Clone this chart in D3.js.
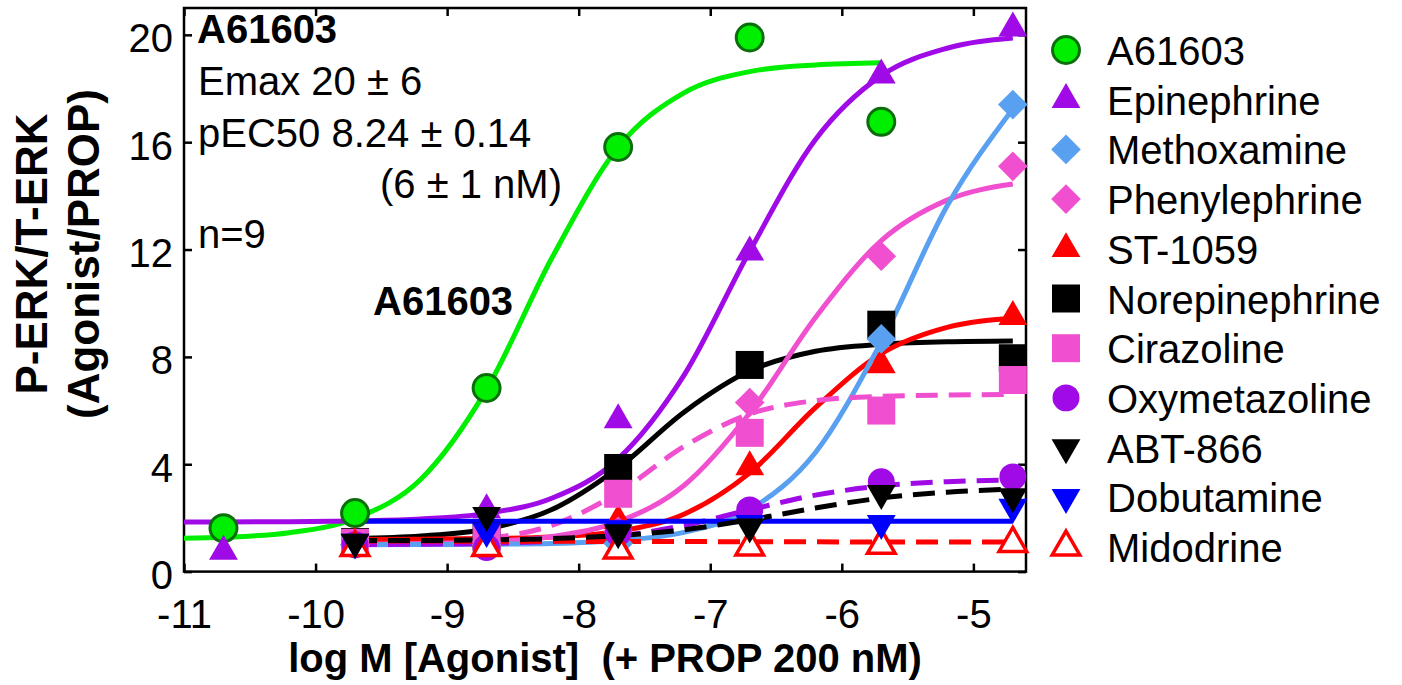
<!DOCTYPE html>
<html>
<head>
<meta charset="utf-8">
<script src="https://cdn.jsdelivr.net/npm/d3@7"></script>
<style>
  body { margin: 0; background: #fff; }
  text { font-family: "Liberation Sans", Arial, Helvetica, sans-serif; }
</style>
</head>
<body>
<svg id="chart" width="1402" height="685"></svg>
<script>
// concentrations (log M) of the measured points
var doseX = [-10.7, -9.7, -8.7, -7.7, -6.7, -5.7, -4.7];
var fitX = [-11, -10.7, -10.2, -9.7, -9.2, -8.7, -8.2, -7.7, -7.2, -6.7, -6.2, -5.7, -5.2, -4.7];
var xTicks = [-11, -10, -9, -8, -7, -6, -5];
var yTicks = [0, 4, 8, 12, 16, 20];

var names = ["A61603", "Epinephrine", "Methoxamine", "Phenylephrine", "ST-1059", "Norepinephrine",
             "Cirazoline", "Oxymetazoline", "ABT-866", "Dobutamine", "Midodrine"];

var ptA61603 = [1.62, 2.18, 6.84, 15.82, 19.9, 16.76, null];
var ptEpinephrine = [0.75, 1.0, 2.3, 5.65, 11.9, 18.5, 20.25];
var ptMethoxamine = [null, 1.0, 1.0, 1.05, 2.0, 8.67, 17.4];
var ptPhenylephrine = [null, 1.0, 1.1, 1.5, 6.3, 11.75, 15.1];
var ptST1059 = [null, 1.05, 1.2, 1.9, 3.9, 7.7, 9.5];
var ptNorepinephrine = [null, 1.1, 1.3, 3.86, 7.7, 9.2, 7.95];
var ptCirazoline = [null, 1.07, 1.25, 2.9, 5.17, 6.0, 7.14];
var ptOxymetazoline = [null, 1.0, 0.9, 1.45, 2.3, 3.35, 3.53];
var ptABT866 = [null, 1.1, 2.1, 1.45, 1.67, 2.92, 2.8];
var ptDobutamine = [null, 1.1, 1.5, 1.6, 1.8, 1.8, 2.4];
var ptMidodrine = [null, 0.9, 0.9, 0.8, 0.92, 0.98, 1.05];

var fitA61603 = [1.24, 1.28, 1.45, 1.98, 3.44, 6.79, 11.72, 15.81, 17.84, 18.63, 18.88, 18.96, null, null];
var fitEpinephrine = [1.85, 1.85, 1.86, 1.89, 1.96, 2.17, 2.74, 4.20, 7.31, 11.94, 16.10, 18.48, 19.50, 19.88];
var fitMethoxamine = [null, null, null, 1.0, 1.01, 1.02, 1.05, 1.16, 1.46, 2.31, 4.44, 8.56, 13.62, 17.24];
var fitPhenylephrine = [null, null, null, 1.01, 1.04, 1.11, 1.31, 1.86, 3.21, 5.91, 9.47, 12.33, 13.84, 14.44];
var fitST1059 = [null, null, null, 1.20, 1.21, 1.23, 1.29, 1.50, 2.14, 3.68, 6.11, 8.12, 9.10, 9.44];
var fitNorepinephrine = [null, null, null, 1.24, 1.33, 1.59, 2.32, 3.86, 5.94, 7.48, 8.21, 8.47, 8.56, 8.59];
var fitCirazoline = [null, null, null, 1.02, 1.07, 1.23, 1.73, 2.94, 4.66, 5.87, 6.37, 6.53, 6.58, 6.60];
var fitOxymetazoline = [null, null, null, 1.01, 1.02, 1.05, 1.13, 1.32, 1.72, 2.30, 2.85, 3.19, 3.35, 3.41];
var fitABT866 = [null, null, null, 1.16, 1.16, 1.18, 1.23, 1.34, 1.56, 1.93, 2.37, 2.74, 2.96, 3.07];
var fitDobutamine = [null, null, null, 1.88, 1.88, 1.88, 1.88, 1.88, 1.88, 1.88, 1.88, 1.88, 1.88, 1.88];
var fitMidodrine = [null, null, null, 1.14, 1.14, 1.13, 1.13, 1.12, 1.12, 1.11, 1.11, 1.1, 1.1, 1.1];

var points = [ptA61603, ptEpinephrine, ptMethoxamine, ptPhenylephrine, ptST1059, ptNorepinephrine,
              ptCirazoline, ptOxymetazoline, ptABT866, ptDobutamine, ptMidodrine];
var fits = [fitA61603, fitEpinephrine, fitMethoxamine, fitPhenylephrine, fitST1059, fitNorepinephrine,
            fitCirazoline, fitOxymetazoline, fitABT866, fitDobutamine, fitMidodrine];

// styling per series
var colors = ["#00ee00", "#a00ae6", "#5aa0f0", "#f050d0", "#ff0000", "#000000",
              "#f050d0", "#a00ae6", "#000000", "#0000ff", "#ff0000"];
var shapes = ["circle", "triUp", "diamond", "diamond", "triUp", "square",
              "square", "circle", "triDown", "triDown", "triOpen"];
var dashed = [false, false, false, false, false, false, true, true, true, false, true];
// order the marks were stacked in the original
var drawOrder = [0, 1, 5, 4, 3, 2, 6, 7, 10, 9, 8];

var svg = d3.select("#chart"),
    FONT = "'Liberation Sans', Arial, Helvetica, sans-serif",
    L = 184, R = 1026, T = 8, B = 571.6;

var x = d3.scaleLinear().domain([-11, -4.6]).range([L, R]),
    y = d3.scaleLinear().domain([0, 21]).range([B, T]);

function styleAxis(g) {
  g.select(".domain").remove();
  g.selectAll(".tick line").attr("stroke", "#000").attr("stroke-width", 2.5);
  g.selectAll("text").attr("font-family", FONT).attr("font-size", 40).attr("fill", "#000");
}

svg.append("g")
    .attr("transform", "translate(0," + B + ")")
    .call(d3.axisBottom(x).tickValues(xTicks).tickSize(-8).tickPadding(28)
      .tickFormat(function(d) { return String(d); }))
    .call(styleAxis);

svg.append("g")
    .attr("transform", "translate(0," + T + ")")
    .call(d3.axisTop(x).tickValues(xTicks).tickSize(-8).tickFormat(""))
    .call(styleAxis);

svg.append("g")
    .attr("transform", "translate(" + L + ",0)")
    .call(d3.axisLeft(y).tickValues(yTicks).tickSize(-8).tickPadding(11))
    .call(styleAxis)
    .selectAll("text").attr("dy", "0.42em");

svg.append("g")
    .attr("transform", "translate(" + R + ",0)")
    .call(d3.axisRight(y).tickValues(yTicks).tickSize(-8).tickFormat(""))
    .call(styleAxis);

svg.append("rect")
    .attr("x", L).attr("y", T).attr("width", R - L).attr("height", B - T)
    .attr("fill", "none").attr("stroke", "#000").attr("stroke-width", 2.5);

// fitted curves
var lineGen = d3.line()
    .defined(function(d) { return d[1] != null; })
    .x(function(d) { return x(d[0]); })
    .y(function(d) { return y(d[1]); })
    .curve(d3.curveMonotoneX);

drawOrder.forEach(function(i) {
  var pts = fitX.map(function(v, k) { return [v, fits[i][k]]; });
  svg.append("path")
      .attr("d", lineGen(pts))
      .attr("fill", "none")
      .attr("stroke", colors[i])
      .attr("stroke-width", 5)
      .attr("stroke-dasharray", dashed[i] ? "22,11" : null);
});

function drawSymbol(g, kind, color, cx, cy) {
  var sym, rot = 0, fill = color, stroke = "none", sw = 0;
  if (kind === "circle") { sym = d3.symbol().type(d3.symbolCircle).size(570); }
  else if (kind === "triUp") { sym = d3.symbol().type(d3.symbolTriangle).size(360); }
  else if (kind === "triDown") { sym = d3.symbol().type(d3.symbolTriangle).size(360); rot = 180; }
  else if (kind === "triOpen") { sym = d3.symbol().type(d3.symbolTriangle).size(330); fill = "#fff"; stroke = color; sw = 3.5; }
  else if (kind === "square") { sym = d3.symbol().type(d3.symbolSquare).size(784); }
  else if (kind === "diamond") { sym = d3.symbol().type(d3.symbolSquare).size(440); rot = 45; }
  if (color === "#00ee00") { stroke = "#0a6e0a"; sw = 3; }
  g.append("path")
      .attr("d", sym())
      .attr("transform", "translate(" + cx + "," + cy + ") rotate(" + rot + ")")
      .attr("fill", fill)
      .attr("stroke", stroke)
      .attr("stroke-width", sw);
}

// data points
var marks = svg.append("g");
drawOrder.forEach(function(i) {
  points[i].forEach(function(v, k) {
    if (v == null) return;
    drawSymbol(marks, shapes[i], colors[i], x(doseX[k]), y(v));
  });
});

// annotations
var ann = svg.append("g").attr("font-family", FONT).attr("font-size", 40).attr("fill", "#000");
ann.append("text").attr("x", 197).attr("y", 43).attr("font-weight", "bold").text("A61603");
ann.append("text").attr("x", 198).attr("y", 95).text("Emax 20 \u00b1 6");
ann.append("text").attr("x", 198).attr("y", 147).text("pEC50 8.24 \u00b1 0.14");
ann.append("text").attr("x", 380).attr("y", 198).text("(6 \u00b1 1 nM)");
ann.append("text").attr("x", 198).attr("y", 248).text("n=9");
ann.append("text").attr("x", 373).attr("y", 315).attr("font-weight", "bold").text("A61603");

// legend
var leg = svg.append("g");
names.forEach(function(n, i) {
  var cy = 50 + i * 49.7;
  drawSymbol(leg, shapes[i], colors[i], 1066, cy);
  leg.append("text")
      .attr("x", 1107).attr("y", cy + 15)
      .attr("font-family", FONT).attr("font-size", 40)
      .text(n);
});

// axis titles
svg.append("text")
    .attr("x", (L + R) / 2).attr("y", 672)
    .attr("text-anchor", "middle")
    .attr("font-family", FONT).attr("font-size", 40).attr("font-weight", "bold")
    .style("white-space", "pre")
    .text("log M [Agonist]  (+ PROP 200 nM)");

var yt = svg.append("text")
    .attr("transform", "translate(0,254) rotate(-90)")
    .attr("text-anchor", "middle")
    .attr("font-family", FONT).attr("font-size", 44).attr("font-weight", "bold");
yt.append("tspan").attr("x", 0).attr("y", 47).text("P-ERK/T-ERK");
yt.append("tspan").attr("x", 0).attr("y", 99).text("(Agonist/PROP)");
</script>
</body>
</html>
